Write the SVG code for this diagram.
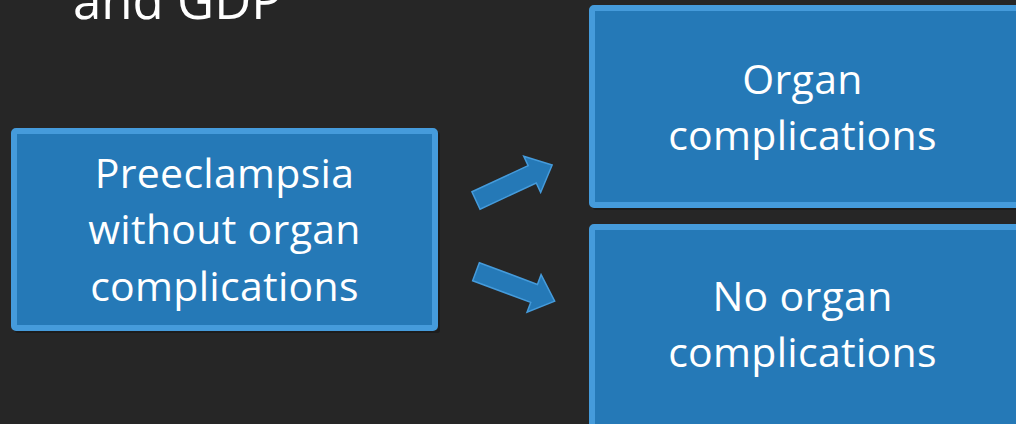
<svg xmlns="http://www.w3.org/2000/svg" width="1016" height="424" viewBox="0 0 1016 424">
<style>
.box{fill:#2579b7;stroke:#459bdb;stroke-width:6}
.shadow{fill:#111;opacity:0.5}
.lbl{font-family:"Open Sans","Liberation Sans",sans-serif;font-size:41px;fill:#ffffff;text-anchor:middle;letter-spacing:0.3px}
.title{font-family:"Open Sans","Liberation Sans",sans-serif;font-size:51px;fill:#ffffff}
.arrow{fill:#2579b7;stroke:#459bdb;stroke-width:1.5;stroke-linejoin:miter}
</style>
<defs>
<polygon id="arr" points="0,-9.6 62,-9.6 62,-20 84,0 62,20 62,9.6 0,9.6"/>
</defs>
<rect x="0" y="0" width="1016" height="424" fill="#262626"/>
<text class="title" x="73" y="18.5">and GDP</text>
<g id="node-preeclampsia">
<rect class="shadow" x="15" y="132" width="425" height="201" rx="3"/>
<rect class="box" x="14" y="131" width="421" height="197" rx="2"/>
<text class="lbl" x="224.5" y="187.5">Preeclampsia</text>
<text class="lbl" x="224.5" y="244">without organ</text>
<text class="lbl" x="224.5" y="300.5">complications</text>
</g>
<g id="node-organ">
<rect class="shadow" x="593" y="9" width="430" height="201" rx="3"/>
<rect class="box" x="592" y="8" width="430" height="197" rx="2"/>
<text class="lbl" x="802.5" y="94">Organ</text>
<text class="lbl" x="802.5" y="150">complications</text>
</g>
<g id="node-no-organ">
<rect class="shadow" x="593" y="228" width="430" height="210" rx="3"/>
<rect class="box" x="592" y="227" width="430" height="210" rx="2"/>
<text class="lbl" x="802.5" y="311">No organ</text>
<text class="lbl" x="802.5" y="367">complications</text>
</g>
<g id="connectors">
<use href="#arr" class="arrow" transform="translate(476,200.5) rotate(-25)"/>
<use href="#arr" class="arrow" transform="translate(476,271.7) rotate(20.5)"/>
</g>
</svg>
